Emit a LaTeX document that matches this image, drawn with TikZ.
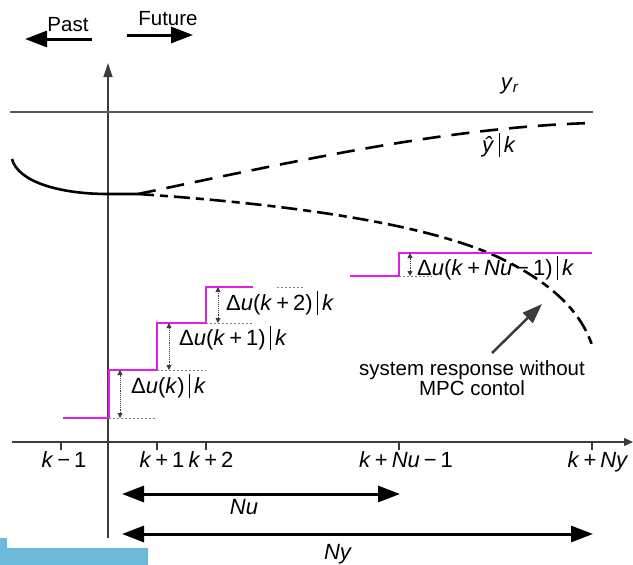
\documentclass[tikz,border=0pt]{standalone}
\usepackage{fontspec}
\setmainfont{Liberation Sans}
\usetikzlibrary{arrows.meta}
\definecolor{stepmag}{HTML}{E41DE4}
\definecolor{barblue}{HTML}{6CB9DA}
\definecolor{axgray}{HTML}{3C3C3C}
\newcommand{\vi}[1]{\textit{#1}}
\newcommand{\op}[1]{\hspace{0.18em}#1\hspace{0.18em}}
\newcommand{\cond}{\hspace{0.2em}\rule[-0.22em]{0.7pt}{1.1em}\hspace{0.2em}}
\newcommand{\du}[1]{Δ\vi{u}(#1)\cond\vi{k}}

\begin{document}
\begin{tikzpicture}[x=1pt, y=-1pt,
        lbl/.style={font=\fontsize{20.5}{19}\selectfont, inner sep=0pt},
        mlbl/.style={font=\fontsize{22}{24}\selectfont, inner sep=0pt},
        ax/.style={axgray, line width=1.2pt},
        big/.style={{Triangle[length=22pt,width=16pt]}-{Triangle[length=22pt,width=16pt]}, line width=3pt},
        one/.style={-{Triangle[length=22pt,width=16pt]}, line width=3pt},
        stp/.style={stepmag, line width=1.6pt},
        dd/.style={{Triangle[length=5pt,width=5pt]}-{Triangle[length=5pt,width=5pt]}, axgray, densely dotted, line width=0.9pt},
        ref/.style={gray, dash pattern=on 2pt off 2pt, line width=0.9pt},
        crv/.style={line width=2.6pt}]
    \useasboundingbox (0,0) rectangle (633,565);
    \fill[barblue] (0,538) rectangle (7,565) (0,548) rectangle (148,565);

    \draw[ax, -{Triangle[length=9pt,width=8pt]}] (12,442) -- (633,442);
    \draw[ax, -{Triangle[length=14pt,width=9pt]}] (108,538) -- (108,63);
    \foreach \x in {61,157,206,399,592} \draw[ax] (\x,442) -- (\x,450);
    \foreach \n/\x/\t in {a/64/\vi{k}\op{−}1, b/162/\vi{k}\op{+}1, c/211/\vi{k}\op{+}2,
            d/406/\vi{k}\op{+}\vi{Nu}\op{−}1, e/598/\vi{k}\op{+}\vi{Ny}}
        \node[mlbl, anchor=base] (tk\n) at (\x,467) {\t};

    \coordinate (pa) at (92,39);  \coordinate (pb) at (25,39);
    \coordinate (fa) at (127,35); \coordinate (fb) at (193,35);
    \draw[one] (pa) -- (pb);
    \draw[one] (fa) -- (fb);
    \node[lbl, anchor=base] (past) at (68,31) {Past};
    \node[lbl, anchor=base] (future) at (168,25) {Future};

    \draw[axgray!85, line width=1.5pt] (10,112) -- (593,112);
    \node[mlbl] (yr) at (510,86) {\vi{y}\textsubscript{\vi{r}}};
    \node[mlbl, anchor=base] (yhat) at (499,152) {\vi{ŷ}\cond\vi{k}};

    \coordinate (br) at (138,194);
    \draw[crv] (12,159) .. controls (18,182) and (60,194) .. (108,194) -- (br);
    \draw[crv, dash pattern=on 18pt off 11pt] (br) .. controls (300,160) and (450,127) .. (592,123);
    \draw[crv, dash pattern=on 16pt off 6pt on 8pt off 6pt] (br) .. controls (300,205) and (430,225) .. (500,258)
        .. controls (550,282) and (580,310) .. (592,345);

    \coordinate (u0) at (63,418);  \coordinate (u1) at (109,370);
    \coordinate (u2) at (157,323); \coordinate (u3) at (206,287);
    \coordinate (u4) at (253,287);
    \draw[stp] (u0) -| (u1) -| (u2) -| (u3) -- (u4);
    \draw[ref] (109,418) -- (157,418);
    \draw[ref] (u2 |- u1) -- (206,370);
    \draw[ref] (u3 |- u2) -- (253,323);
    \draw[ref] (277,287) -- (305,287);
    \draw[dd] (120,418) -- (120,370);
    \draw[dd] (169,370) -- (169,323);
    \draw[dd] (218,323) -- (218,287);
    \node[mlbl, anchor=west] (d0) at (131,386) {\du{\vi{k}}};
    \node[mlbl, anchor=west] (d1) at (179,338) {\du{\vi{k}\op{+}1}};
    \node[mlbl, anchor=west] (d2) at (226,303) {\du{\vi{k}\op{+}2}};

    \coordinate (v0) at (350,276); \coordinate (v1) at (399,253);
    \coordinate (v2) at (592,253);
    \draw[stp] (v0) -| (v1) -- (v2);
    \draw[ref] (399,276) -- (432,276);
    \draw[dd] (410,276) -- (410,253);
    \node[mlbl, anchor=west] (d3) at (417,268) {\du{\vi{k}\op{+}\vi{Nu}\op{−}1}};

    \coordinate (ga) at (492,353); \coordinate (gb) at (542,304);
    \draw[axgray, line width=2.5pt, -{Triangle[length=20pt,width=14pt]}] (ga) -- (gb);
    \node[lbl, align=center, anchor=north] (resp) at (472,360) {system response without\\MPC contol};

    \coordinate (nl) at (122,494); \coordinate (nr) at (400,494);
    \coordinate (yl) at (122,534); \coordinate (yrr) at (593,534);
    \draw[big] (nl) -- (nr);
    \draw[big] (yl) -- (yrr);
    \node[mlbl, anchor=base] (nu) at (244,514) {\vi{Nu}};
    \node[mlbl, anchor=base] (ny) at (338,559) {\vi{Ny}};
\end{tikzpicture}
\end{document}
